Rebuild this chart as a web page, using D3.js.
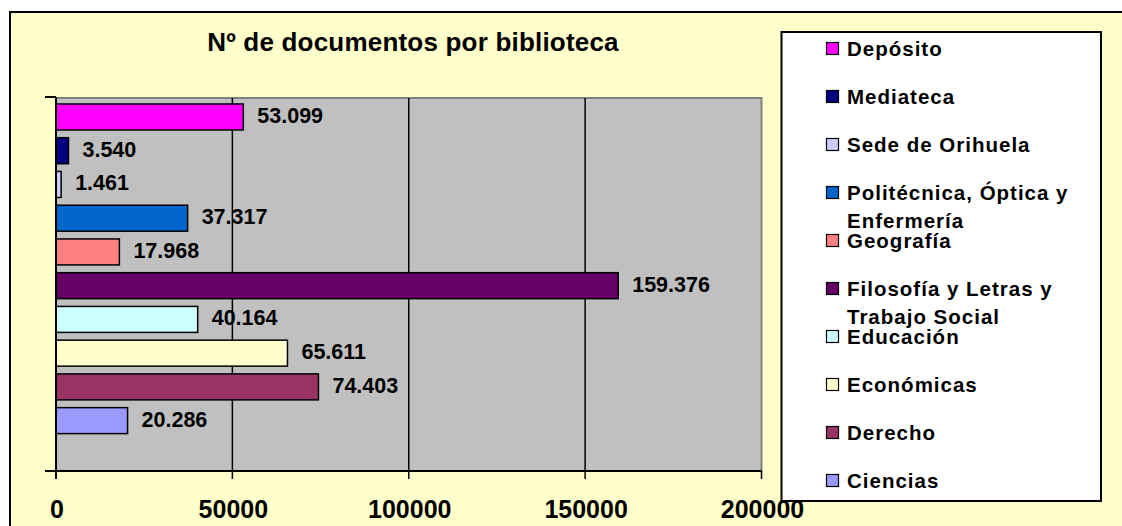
<!DOCTYPE html>
<html>
<head>
<meta charset="utf-8">
<style>
  body { margin: 0; background: #ffffff; }
  svg { display: block; font-family: "Liberation Sans", Arial, sans-serif; font-weight: bold; }
</style>
</head>
<body>
<svg id="chart" width="1122" height="526"></svg>
<script src="https://cdn.jsdelivr.net/npm/d3@7"></script>
<script>

// ----------------------------------------------------------------------------
//                              DATA
// ----------------------------------------------------------------------------
// Libraries, top bar first (same order as the legend).
var libraries = ["Depósito", "Mediateca", "Sede de Orihuela",
                 "Politécnica, Óptica y Enfermería", "Geografía",
                 "Filosofía y Letras y Trabajo Social", "Educación",
                 "Económicas", "Derecho", "Ciencias"];
var documents = [53099, 3540, 1461, 37317, 17968, 159376, 40164, 65611, 74403, 20286];
var barColors = ["#ff00ff", "#000080", "#ccccff", "#0066cc", "#ff8080",
                 "#660066", "#ccffff", "#ffffcc", "#993366", "#9999ff"];
var xTicks = [0, 50000, 100000, 150000, 200000];
var title = "Nº de documentos por biblioteca";

// Spanish number format (dot as thousands separator)
var es = d3.formatLocale({decimal: ",", thousands: ".", grouping: [3], currency: ["", " €"]});
var fmt = es.format(",d");

// ----------------------------------------------------------------------------
//                              LAYOUT
// ----------------------------------------------------------------------------
var svg = d3.select("#chart");
var plot = {left: 56, top: 98, bottom: 471};

var x = d3.scaleLinear().domain([0, 200000]).range([plot.left, 761.5]);

// Bars are clustered series, so the band runs a bit above the plot bottom.
var y = d3.scaleBand().domain(libraries)
    .range([100.1, 437.5])
    .paddingInner(0.23)
    .paddingOuter(0.115);

// Chart background and outer border
svg.append("rect")
    .attr("x", 10).attr("y", 12)
    .attr("width", 1130).attr("height", 540)
    .attr("fill", "#ffffcc")
    .attr("stroke", "#000").attr("stroke-width", 2);

// Plot area
svg.append("rect")
    .attr("x", plot.left).attr("y", plot.top)
    .attr("width", x(200000) - plot.left).attr("height", plot.bottom - plot.top)
    .attr("fill", "#c0c0c0")
    .attr("stroke", "#808080").attr("stroke-width", 2);

// Vertical gridlines
svg.append("g").selectAll("line")
    .data(xTicks.slice(1, -1))
    .enter().append("line")
    .attr("x1", function(d) { return x(d); })
    .attr("x2", function(d) { return x(d); })
    .attr("y1", plot.top).attr("y2", plot.bottom)
    .attr("stroke", "#000").attr("stroke-width", 1.5);

// Title
svg.append("text")
    .attr("x", 413).attr("y", 51)
    .attr("text-anchor", "middle")
    .attr("font-size", 26)
    .attr("letter-spacing", 0.2)
    .attr("fill", "#000")
    .text(title);

// Bars
svg.append("g").selectAll("rect")
    .data(libraries)
    .enter().append("rect")
    .attr("x", plot.left)
    .attr("y", function(d) { return y(d); })
    .attr("width", function(d, i) { return x(documents[i]) - plot.left; })
    .attr("height", y.bandwidth())
    .attr("fill", function(d, i) { return barColors[i]; })
    .attr("stroke", "#000").attr("stroke-width", 1.5);

// Data labels
svg.append("g").selectAll("text")
    .data(libraries)
    .enter().append("text")
    .attr("x", function(d, i) { return x(documents[i]) + 14; })
    .attr("y", function(d) { return y(d) + y.bandwidth() / 2 + 6; })
    .attr("font-size", 21.5)
    .attr("fill", "#000")
    .text(function(d, i) { return fmt(documents[i]); });

// Y axis line with end ticks
var yAxis = svg.append("g").attr("stroke", "#000").attr("stroke-width", 2);
yAxis.append("line")
    .attr("x1", plot.left).attr("x2", plot.left)
    .attr("y1", plot.top - 1).attr("y2", plot.bottom + 8);
yAxis.selectAll("line.tick")
    .data([plot.top - 1, plot.bottom])
    .enter().append("line")
    .attr("class", "tick")
    .attr("x1", 45).attr("x2", plot.left)
    .attr("y1", function(d) { return d; })
    .attr("y2", function(d) { return d; });

// ----------------------------------------------------------------------------
//                              LEGEND
// ----------------------------------------------------------------------------
var legend = svg.append("g");
legend.append("rect")
    .attr("x", 781.5).attr("y", 32)
    .attr("width", 319.5).attr("height", 469)
    .attr("fill", "#fff")
    .attr("stroke", "#000").attr("stroke-width", 2);

var ly = d3.scalePoint().domain(libraries).range([49, 481]);

var item = legend.selectAll("g.item")
    .data(libraries)
    .enter().append("g")
    .attr("class", "item")
    .attr("transform", function(d) { return "translate(0," + ly(d) + ")"; });

item.append("rect")
    .attr("x", 826.5).attr("y", -6.5)
    .attr("width", 12).attr("height", 12)
    .attr("fill", function(d, i) { return barColors[i]; })
    .attr("stroke", "#000").attr("stroke-width", 1.2);

// Wrap long names onto a second line
item.append("text")
    .attr("x", 847).attr("y", 7)
    .attr("font-size", 20.5)
    .attr("letter-spacing", 1.0)
    .attr("fill", "#000")
    .each(function(d) {
      var t = d3.select(this), words = d.split(" "), line = [];
      var tspan = t.append("tspan").attr("x", 847).attr("dy", 0);
      words.forEach(function(w) {
        line.push(w);
        tspan.text(line.join(" "));
        if (tspan.node().getComputedTextLength() > 245 && line.length > 1) {
          line.pop();
          tspan.text(line.join(" "));
          line = [w];
          tspan = t.append("tspan").attr("x", 847).attr("dy", 28).text(w);
        }
      });
    });

// ----------------------------------------------------------------------------
//                              X AXIS
// ----------------------------------------------------------------------------
var xAxis = svg.append("g");
xAxis.append("line")
    .attr("x1", plot.left - 11).attr("x2", x(200000))
    .attr("y1", plot.bottom).attr("y2", plot.bottom)
    .attr("stroke", "#000").attr("stroke-width", 2);
xAxis.selectAll("line.tick")
    .data(xTicks)
    .enter().append("line")
    .attr("class", "tick")
    .attr("x1", function(d) { return x(d); })
    .attr("x2", function(d) { return x(d); })
    .attr("y1", plot.bottom).attr("y2", plot.bottom + 8)
    .attr("stroke", "#000").attr("stroke-width", 1.5);
xAxis.selectAll("text")
    .data(xTicks)
    .enter().append("text")
    .attr("x", function(d) { return x(d) + 1; })
    .attr("y", 518)
    .attr("text-anchor", "middle")
    .attr("font-size", 25)
    .attr("fill", "#000")
    .text(function(d) { return d; });

</script>
</body>
</html>
